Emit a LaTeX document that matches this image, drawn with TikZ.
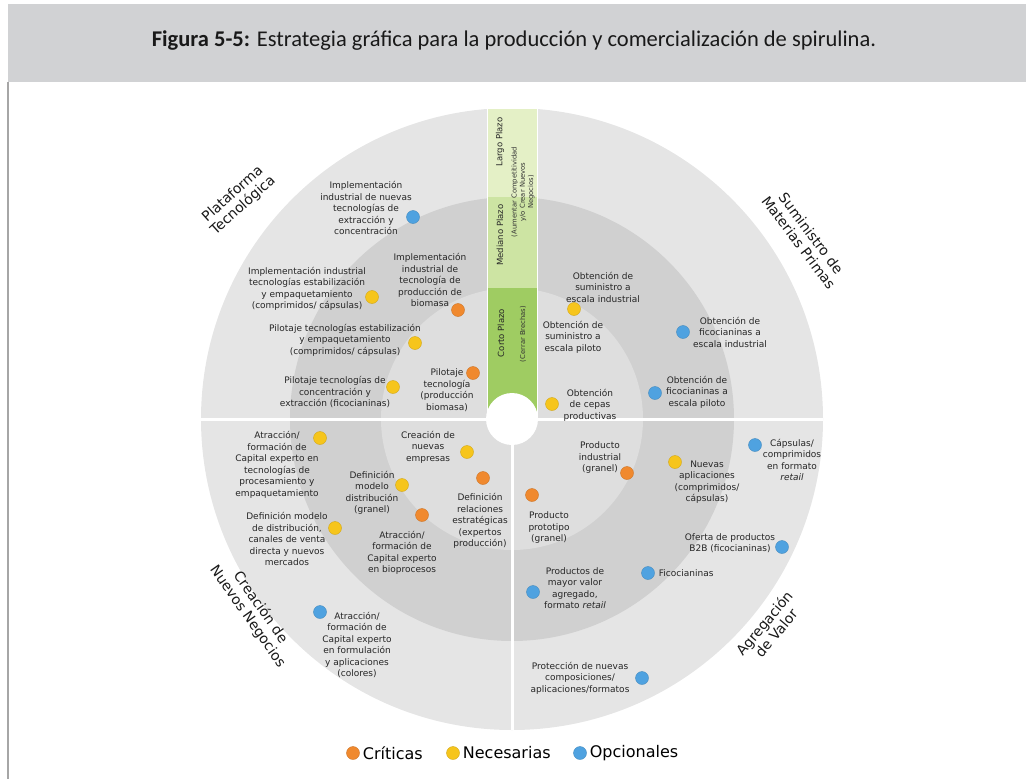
\documentclass[tikz,border=0pt]{standalone}
\usepackage{fontspec}
\setmainfont{DejaVu Sans}
\newfontfamily\titlefont{Carlito}
\usepackage{tikz}
\usetikzlibrary{positioning}
\definecolor{critica}{HTML}{F0892E}
\definecolor{necesaria}{HTML}{F6C51C}
\definecolor{opcional}{HTML}{4FA2E0}
\definecolor{ringout}{HTML}{E5E5E5}
\definecolor{ringmid}{HTML}{D0D0D0}
\definecolor{ringin}{HTML}{DEDEDE}
\definecolor{corto}{HTML}{9FCC62}
\definecolor{mediano}{HTML}{CDE4A3}
\definecolor{largo}{HTML}{E4F0C6}
\definecolor{banda}{HTML}{D1D2D4}

\tikzset{
  item/.style={align=center, font=\fontsize{9}{11.5}\selectfont, text=black!85, inner sep=0pt},
  dotbase/.style={circle, minimum size=13pt, inner sep=0pt},
  dotcrit/.style={dotbase, fill=critica, draw=critica!85!black, line width=0.4pt},
  dotnec/.style={dotbase, fill=necesaria, draw=necesaria!85!black, line width=0.4pt},
  dotopc/.style={dotbase, fill=opcional, draw=opcional!85!black, line width=0.4pt},
  quadlabel/.style={align=center, font=\fontsize{14}{15.5}\selectfont, text=black!90, inner sep=0pt},
  plazo/.style={rotate=90, font=\fontsize{8.5}{10}\selectfont, text=black!85},
  plazosub/.style={rotate=90, align=center, font=\fontsize{6.8}{8.2}\selectfont, text=black!80},
  legendtext/.style={font=\fontsize{16}{18}\selectfont, text=black, inner sep=0pt}
}

\begin{document}
\begin{tikzpicture}[x=1pt, y=-1pt]
  \useasboundingbox (0,0) rectangle (1026,779);

  \fill[banda] (8,4) rectangle (1026,82);
  \coordinate (bordeA) at (8,82);
  \coordinate (bordeB) at (8,779);
  \draw[gray!70, line width=1.2pt] (bordeA) -- (bordeB);
  \node[font=\titlefont\fontsize{22.5}{24}\selectfont, text=black!90] (titulo) at (514,41)
    {\textbf{Figura 5-5:} Estrategia gráfica para la producción y comercialización de spirulina.};

  \coordinate (centro) at (512,419);
  \fill[ringout] (centro) circle[radius=311];
  \fill[ringmid] (centro) circle[radius=222];
  \fill[ringin] (centro) circle[radius=131];

  \fill[largo] (487,108) rectangle (537,197);
  \fill[mediano] (487,197) rectangle (537,288);
  \fill[corto] (487,288) rectangle (537,419);
  \draw[white, line width=1pt] (487,108) rectangle (537,419);

  \coordinate (oeste) at (201,419);
  \coordinate (este) at (823,419);
  \coordinate (sur) at (512,730);
  \draw[white, line width=3pt] (oeste) -- (este);
  \draw[white, line width=3pt] (centro) -- (sur);
  \node[circle, fill=white, minimum size=52pt, inner sep=0pt] (nucleo) at (centro) {};

  \node[plazo] (largo) at (500,142) {Largo Plazo};
  \node[plazo] (mediano) at (500,235) {Mediano Plazo};
  \node[plazosub] (medianosub) at (523,192) {(Aumentar Competitividad\\y/o Crear Nuevos\\Negocios)};
  \node[plazo] (corto) at (501,333) {Corto Plazo};
  \node[plazosub] (cortosub) at (523,334) {(Cerrar Brechas)};

  \node[quadlabel, rotate=42] (plataforma) at (238,200) {Plataforma\\Tecnológica};
  \node[quadlabel, rotate=-53] (suministro) at (805,238) {Suministro de\\Materias Primas};
  \node[quadlabel, rotate=-55] (creacion) at (254,612) {Creación de\\Nuevos Negocios};
  \node[quadlabel, rotate=50] (agregacion) at (770,628) {Agregación\\de Valor};

  \node[item] (pt1) at (366,208) {Implementación\\industrial de nuevas\\tecnologías de\\extracción y\\concentración};
  \node[dotopc] (dpt1) at (413,217) {};
  \node[item] (pt2) at (307,289) {Implementación industrial\\tecnologías estabilización\\y empaquetamiento\\(comprimidos/ cápsulas)};
  \node[dotnec] (dpt2) at (372,297) {};
  \node[item] (pt3) at (430,280) {Implementación\\industrial de\\tecnología de\\producción de\\biomasa};
  \node[dotcrit] (dpt3) at (458,310) {};
  \node[item] (pt4) at (345,340) {Pilotaje tecnologías estabilización\\y empaquetamiento\\(comprimidos/ cápsulas)};
  \node[dotnec] (dpt4) at (415,343) {};
  \node[item] (pt5) at (335,392) {Pilotaje tecnologías de\\concentración y\\extracción (ficocianinas)};
  \node[dotnec] (dpt5) at (393,387) {};
  \node[item] (pt6) at (447,390) {Pilotaje\\tecnología\\(producción\\biomasa)};
  \node[dotcrit] (dpt6) at (473,373) {};

  \node[item] (sm1) at (603,287) {Obtención de\\suministro a\\escala industrial};
  \node[dotnec] (dsm1) at (574,309) {};
  \node[item] (sm2) at (573,337) {Obtención de\\suministro a\\escala piloto};
  \node[item] (sm3) at (590,405) {Obtención\\de cepas\\productivas};
  \node[dotnec] (dsm3) at (552,404) {};
  \node[item] (sm4) at (730,332) {Obtención de\\ficocianinas a\\escala industrial};
  \node[dotopc] (dsm4) at (683,332) {};
  \node[item] (sm5) at (697,392) {Obtención de\\ficocianinas a\\escala piloto};
  \node[dotopc] (dsm5) at (655,393) {};

  \node[item] (cn1) at (277,465) {Atracción/\\formación de\\Capital experto en\\tecnologías de\\procesamiento y\\empaquetamiento};
  \node[dotnec] (dcn1) at (320,438) {};
  \node[item] (cn2) at (428,447) {Creación de\\nuevas\\empresas};
  \node[dotnec] (dcn2) at (467,452) {};
  \node[item] (cn3) at (372,493) {Definición\\modelo\\distribución\\(granel)};
  \node[dotnec] (dcn3) at (402,485) {};
  \node[item] (cn4) at (480,521) {Definición\\relaciones\\estratégicas\\(expertos\\producción)};
  \node[dotcrit] (dcn4) at (483,478) {};
  \node[item] (cn5) at (287,539) {Definición modelo\\de distribución,\\canales de venta\\directa y nuevos\\mercados};
  \node[dotnec] (dcn5) at (335,528) {};
  \node[item] (cn6) at (402,553) {Atracción/\\formación de\\Capital experto\\en bioprocesos};
  \node[dotcrit] (dcn6) at (422,515) {};
  \node[item] (cn7) at (357,645) {Atracción/\\formación de\\Capital experto\\en formulación\\y aplicaciones\\(colores)};
  \node[dotopc] (dcn7) at (320,612) {};

  \node[item] (av1) at (600,458) {Producto\\industrial\\(granel)};
  \node[dotcrit] (dav1) at (627,473) {};
  \node[item] (av2) at (707,482) {Nuevas\\aplicaciones\\(comprimidos/\\cápsulas)};
  \node[dotnec] (dav2) at (675,462) {};
  \node[item] (av3) at (792,460) {Cápsulas/\\comprimidos\\en formato\\\textit{retail}};
  \node[dotopc] (dav3) at (755,445) {};
  \node[item] (av4) at (549,528) {Producto\\prototipo\\(granel)};
  \node[dotcrit] (dav4) at (532,495) {};
  \node[item] (av5) at (730,543) {Oferta de productos\\B2B (ficocianinas)};
  \node[dotopc] (dav5) at (782,547) {};
  \node[dotopc] (dav6) at (648,573) {};
  \node[item, right=4pt of dav6] (av6) {Ficocianinas};
  \node[item] (av7) at (575,588) {Productos de\\mayor valor\\agregado,\\formato \textit{retail}};
  \node[dotopc] (dav7) at (533,592) {};
  \node[item] (av8) at (580,678) {Protección de nuevas\\composiciones/\\aplicaciones/formatos};
  \node[dotopc] (dav8) at (642,678) {};

  \node[dotcrit] (lcrit) at (353,753) {};
  \node[legendtext, right=3pt of lcrit] (tcrit) {Críticas};
  \node[dotnec] (lnec) at (453,753) {};
  \node[legendtext, right=3pt of lnec] (tnec) {Necesarias};
  \node[dotopc] (lopc) at (580,753) {};
  \node[legendtext, right=3pt of lopc] (topc) {Opcionales};
\end{tikzpicture}
\end{document}
